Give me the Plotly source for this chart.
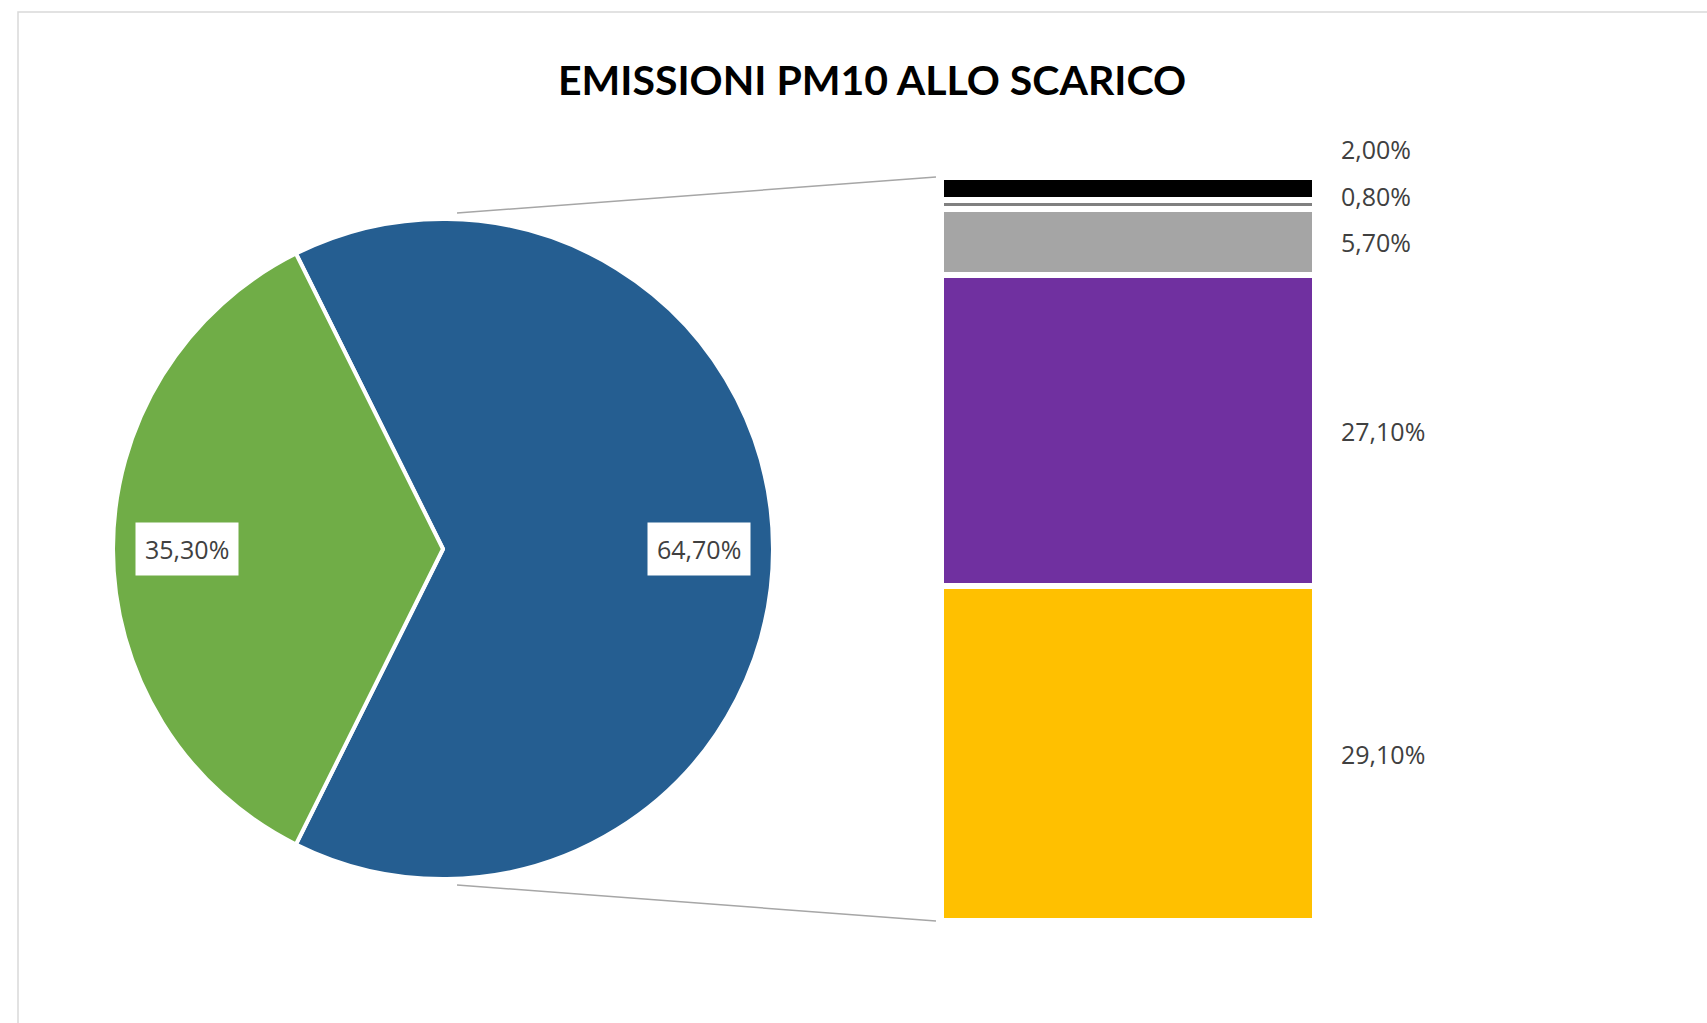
import math
import plotly.graph_objects as go

# ---------------- data ----------------
TITLE = "EMISSIONI PM10 ALLO SCARICO"
PIE_LABELS = ["Altri (dettaglio)", "Resto"]
PIE_VALUES = [64.7, 35.3]
PIE_COLORS = ["#255E91", "#70AD47"]

BAR_LABELS = ["Seg. 1", "Seg. 2", "Seg. 3", "Seg. 4", "Seg. 5"]   # bottom -> top
BAR_VALUES = [29.1, 27.1, 5.7, 0.8, 2.0]
BAR_COLORS = ["#FFC000", "#7030A0", "#A5A5A5", "#808080", "#000000"]
LABEL_YSHIFT = [0, 0, 0, 9, 40]   # collision avoidance for small segments (px)


def fmt(v):
    return f"{v:.2f}".replace(".", ",") + "%"


W, H = 1707, 1023

# ---------------- geometry (pixels) ----------------
PIE_CX, PIE_CY, PIE_R = 443, 549, 330
BAR_X0, BAR_X1, BAR_Y0, BAR_Y1 = 941, 1315, 177, 921


def px(x):
    return x / W


def py(y):
    return 1 - y / H


fig = go.Figure()

pie_total = sum(PIE_VALUES)
rotation = 90 - 360 * PIE_VALUES[0] / pie_total / 2

fig.add_trace(go.Pie(
    labels=PIE_LABELS, values=PIE_VALUES, sort=False, direction="clockwise",
    rotation=rotation,
    marker=dict(colors=PIE_COLORS, line=dict(color="white", width=4)),
    textinfo="none", hoverinfo="label+percent", showlegend=False,
    domain=dict(x=[px(PIE_CX - PIE_R), px(PIE_CX + PIE_R)],
                y=[py(PIE_CY + PIE_R), py(PIE_CY - PIE_R)]),
))

for lab, val, col in zip(BAR_LABELS, BAR_VALUES, BAR_COLORS):
    fig.add_trace(go.Bar(
        x=[0], y=[val], name=lab, width=1,
        marker=dict(color=col, line=dict(color="white", width=6)),
        showlegend=False, hoverinfo="name+y",
    ))

bar_total = sum(BAR_VALUES)

LABEL_FONT = dict(family="Open Sans", size=25, color="#404040")

annotations = []
# bar labels
cum = 0
for val, ys in zip(BAR_VALUES, LABEL_YSHIFT):
    annotations.append(dict(
        xref="x", yref="y", x=0.5, y=cum + val / 2, xanchor="left",
        yanchor="middle", xshift=24, yshift=ys, showarrow=False,
        text=fmt(val), font=LABEL_FONT,
    ))
    cum += val

# pie labels
cum = 0
for val in PIE_VALUES:
    a = math.radians(rotation + 360 * (cum + val / 2) / pie_total)
    lx = PIE_CX + 0.775 * PIE_R * math.sin(a)
    ly = PIE_CY - 0.775 * PIE_R * math.cos(a)
    annotations.append(dict(
        xref="paper", yref="paper", x=px(lx), y=py(ly), xanchor="center",
        yanchor="middle", showarrow=False, text=fmt(val),
        bgcolor="white", borderpad=9, font=LABEL_FONT,
    ))
    cum += val

# title
annotations.append(dict(
    xref="paper", yref="paper", x=px(872), y=py(79), xanchor="center",
    yanchor="middle", showarrow=False, text="<b>" + TITLE + "</b>",
    font=dict(family="Lato", size=41, color="#000000"),
))

shapes = [
    # chart frame
    dict(type="rect", xref="paper", yref="paper", x0=px(18), x1=1.1,
         y0=-0.1, y1=py(12), line=dict(color="#D9D9D9", width=1.5),
         fillcolor="rgba(0,0,0,0)", layer="below"),
    # connector lines
    dict(type="line", xref="paper", yref="paper",
         x0=px(PIE_CX + 14), y0=py(PIE_CY - PIE_R - 6),
         x1=px(BAR_X0 - 5), y1=py(BAR_Y0),
         line=dict(color="#A6A6A6", width=1.5)),
    dict(type="line", xref="paper", yref="paper",
         x0=px(PIE_CX + 14), y0=py(PIE_CY + PIE_R + 6),
         x1=px(BAR_X0 - 5), y1=py(BAR_Y1),
         line=dict(color="#A6A6A6", width=1.5)),
]

fig.update_layout(
    width=W, height=H, margin=dict(l=0, r=0, t=0, b=0),
    paper_bgcolor="white", plot_bgcolor="white",
    barmode="stack", bargap=0,
    xaxis=dict(domain=[px(BAR_X0), px(BAR_X1)], range=[-0.5, 0.5],
               visible=False, fixedrange=True),
    yaxis=dict(domain=[py(BAR_Y1), py(BAR_Y0)], range=[0, bar_total],
               visible=False, fixedrange=True),
    annotations=annotations, shapes=shapes,
)

fig.write_html(
    "out.html",
    config={"displayModeBar": False},
    post_script="document.body.style.margin='0';document.body.style.overflow='hidden';",
)
